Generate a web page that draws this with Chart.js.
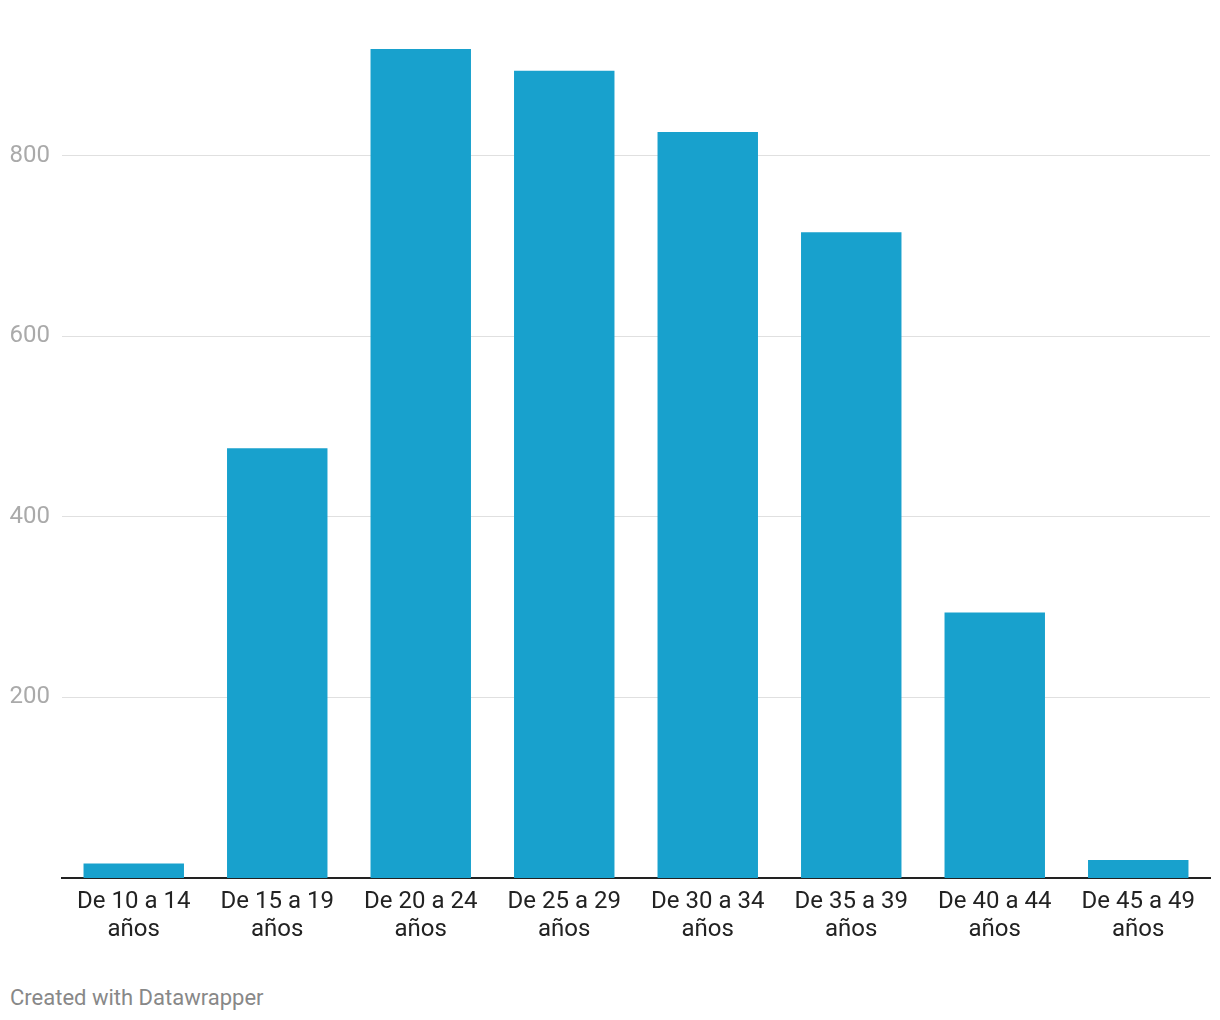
<!DOCTYPE html>
<html>
<head>
<meta charset="utf-8">
<script src="https://cdn.jsdelivr.net/npm/chart.js@4"></script>
<style>
  body { margin: 0; background: #fff; font-family: Roboto, sans-serif; }
  #wrap { position: relative; width: 1220px; height: 960px; }
  #footer { position: absolute; left: 10px; top: 985px; font-size: 22px; color: #888; font-family: Roboto, sans-serif; }
</style>
</head>
<body>
<div id="wrap"><canvas id="chart"></canvas></div>
<div id="footer">Created with Datawrapper</div>
<script>
const categories = ['De 10 a 14', 'De 15 a 19', 'De 20 a 24', 'De 25 a 29', 'De 30 a 34', 'De 35 a 39', 'De 40 a 44', 'De 45 a 49'];
const values = [16, 476, 918, 894, 826, 715, 294, 20];
const yTicks = [200, 400, 600, 800];

const ctx = document.getElementById('chart').getContext('2d');

const chart = new Chart(ctx, {
    type: 'bar',
    data: {
        labels: categories.map(c => [c, 'años']),
        datasets: [{
            data: values,
            backgroundColor: '#18a1cd',
            barPercentage: 0.7,
            categoryPercentage: 1
        }]
    },
    options: {
        responsive: true,
        maintainAspectRatio: false,
        animation: false,
        layout: { padding: { top: 12, right: 10, bottom: 6, left: 0 } },
        plugins: {
            legend: { display: false },
            tooltip: { enabled: false }
        },
        scales: {
            x: {
                grid: { display: false, drawTicks: false },
                border: { color: '#222', width: 2 },
                ticks: {
                    color: '#222',
                    padding: 10,
                    maxRotation: 0,
                    font: { family: 'Roboto', size: 24, lineHeight: 1.167 }
                }
            },
            y: {
                min: 0,
                max: 943,
                afterBuildTicks: scale => { scale.ticks = yTicks.map(v => ({ value: v })); },
                afterFit: scale => { scale.width = 62; },
                grid: { color: '#e0e0e0', lineWidth: 1, drawTicks: false },
                border: { display: false },
                ticks: {
                    color: '#aaa',
                    padding: 12,
                    font: { family: 'Roboto', size: 24 }
                }
            }
        }
    }
});
</script>
</body>
</html>
